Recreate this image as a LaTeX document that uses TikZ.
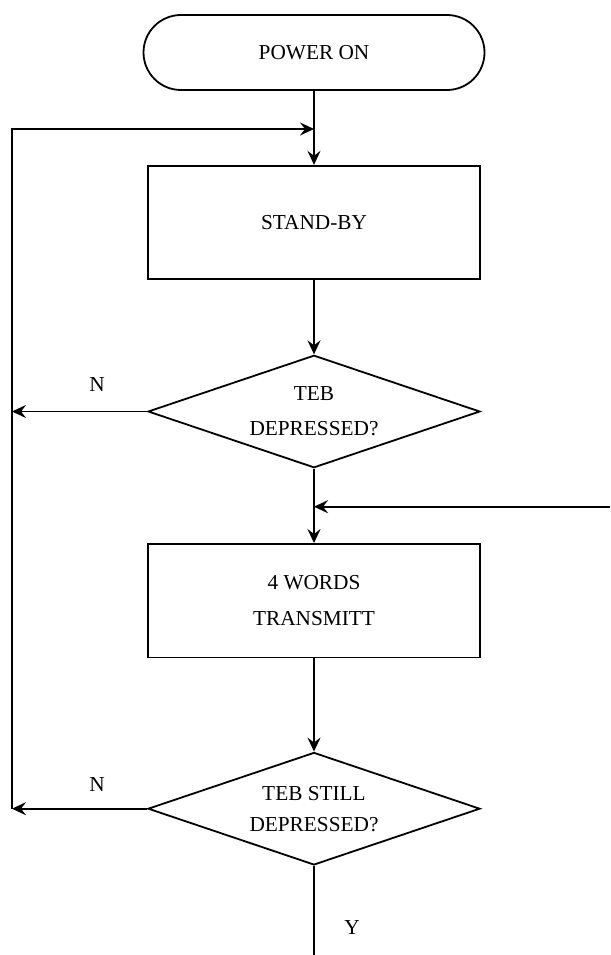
\documentclass[tikz,border=0pt]{standalone}
\usepackage{fontspec}
\setmainfont{Liberation Serif}
\usetikzlibrary{shapes.geometric,arrows.meta}
\begin{document}
\begin{tikzpicture}[x=1pt,y=-1pt,
  line width=1.8pt,
  arr/.style={-{Stealth[length=14pt,width=13pt,inset=5pt]}},
  txt/.style={font=\fontsize{21.3}{35}\selectfont},
  terminal/.style={draw,rounded corners=37.5pt,minimum width=341pt,minimum height=75pt,inner sep=0pt,txt},
  procbox/.style={draw,rectangle,minimum width=332.5pt,minimum height=113.5pt,inner sep=0pt,align=center,txt},
  decision/.style={draw,diamond,aspect=3,minimum width=332pt,minimum height=112.5pt,inner sep=0pt,align=center,txt},
  lbl/.style={inner sep=0pt,txt}]
\useasboundingbox (0,0) rectangle (610,955);
\node[terminal] (pw) at (314,52.5) {POWER ON};
\node[procbox] (b1) at (314,222.5) {STAND-BY};
\node[decision] (d1) at (314,411.5) {TEB\\DEPRESSED?};
\node[procbox,font=\fontsize{21.3}{36}\selectfont] (b2) at (314,600.7) {4 WORDS\\TRANSMITT};
\node[decision,font=\fontsize{21.3}{31}\selectfont] (d2) at (314,808.7) {TEB STILL\\DEPRESSED?};
\coordinate (j1) at (314,129);
\coordinate (ll1) at (12,411.5);
\coordinate (ll2) at (12,808.7);
\coordinate (rr) at (610,506.7);
\coordinate (j2) at (314,506.7);
\coordinate (bot) at (314,955);
\node[lbl] (n1) at (97,385) {N};
\node[lbl] (n2) at (97,785) {N};
\node[lbl] (y1) at (352,928) {Y};
\draw[arr] (pw) -- (b1);
\draw[arr] (b1) -- (d1);
\draw[arr] (d1.south) -- (b2.north);
\draw[arr] (b2) -- (d2);
\draw (d2.south) -- (bot);
\draw[arr] (d1.west) -- (ll1);
\draw[arr] (d2.west) -- (ll2);
\draw[arr] (ll2) |- (j1);
\draw[arr] (rr) -- (j2);
\end{tikzpicture}
\end{document}
